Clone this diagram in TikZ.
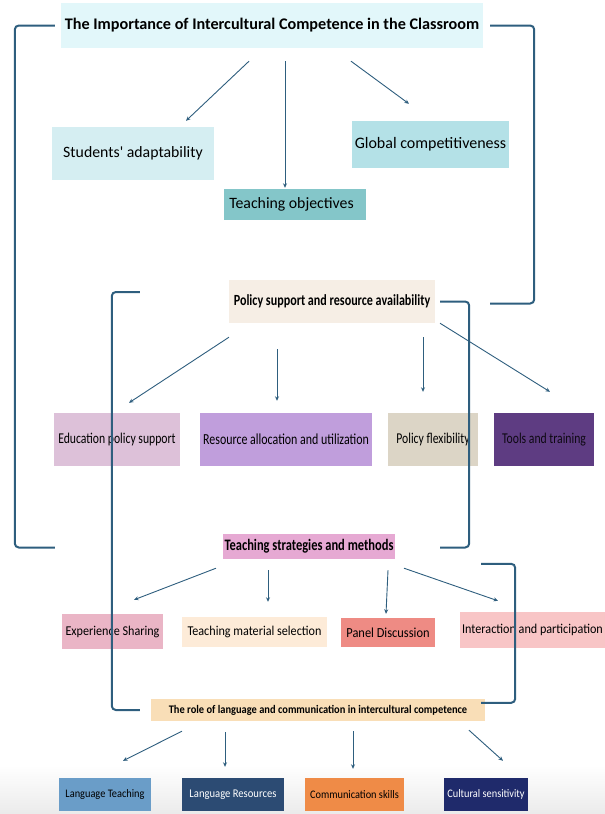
\documentclass[tikz,border=0pt]{standalone}
\usepackage{fontspec}
\setmainfont{Carlito}
\newfontfamily\narrowfont[FakeStretch=0.78]{Carlito}
\newfontfamily\semifont[FakeStretch=0.9]{Carlito}
\usetikzlibrary{positioning,calc,arrows.meta}
\definecolor{linecol}{HTML}{2E5E7E}
\definecolor{titlecol}{HTML}{E2F7FA}
\definecolor{adaptcol}{HTML}{D5EEF2}
\definecolor{globalcol}{HTML}{B4E1E7}
\definecolor{objcol}{HTML}{84C6C9}
\definecolor{policycol}{HTML}{F6EEE5}
\definecolor{educol}{HTML}{DDC1D9}
\definecolor{rescol}{HTML}{C09EDC}
\definecolor{flexcol}{HTML}{DCD5C6}
\definecolor{toolcol}{HTML}{5E3C82}
\definecolor{stratcol}{HTML}{E6A9D3}
\definecolor{expcol}{HTML}{EAB5C6}
\definecolor{matcol}{HTML}{FDEBD8}
\definecolor{panelcol}{HTML}{EE8B84}
\definecolor{intercol}{HTML}{F8C5C6}
\definecolor{rolecol}{HTML}{F9DEB7}
\definecolor{lteachcol}{HTML}{6A9DC8}
\definecolor{lrescol}{HTML}{2C4B73}
\definecolor{commcol}{HTML}{EF8B47}
\definecolor{cultcol}{HTML}{1F2A6B}

\begin{document}
\begin{tikzpicture}[x=1pt,y=-1pt,every node/.style={inner sep=0pt,align=center},arr/.style={draw=linecol,line width=0.9pt,-{Stealth[length=4.5pt,width=4pt]}},brk/.style={draw=linecol,line width=2pt,rounded corners=4pt},big/.style={font=\fontsize{#1}{#1}\selectfont},bigbf/.style={font=\fontsize{#1}{#1}\selectfont\bfseries},narrow/.style={font=\fontsize{#1}{#1}\selectfont\narrowfont},narrowbf/.style={font=\fontsize{#1}{#1}\selectfont\narrowfont\bfseries},semi/.style={font=\fontsize{#1}{#1}\selectfont\semifont},semibf/.style={font=\fontsize{#1}{#1}\selectfont\semifont\bfseries}]
\useasboundingbox (0,0) rectangle (605,814);
\shade[top color=white,bottom color=black!8] (0,765) rectangle (605,814);
\node[fill=titlecol,minimum width=422,minimum height=45,bigbf=16.2](title) at (272,25.5) {The Importance of Intercultural Competence in the Classroom};
\node[fill=adaptcol,minimum width=162,minimum height=53,big=15.8](adapt) at (133,153.5) {Students\textquotesingle\ adaptability};
\node[fill=globalcol,minimum width=157,minimum height=47,big=16](global) at (430.5,144.5) {Global competitiveness};
\node[fill=objcol,minimum width=142,minimum height=31,big=15.8](obj) at (295,204.5) {\hspace*{-7pt}Teaching objectives};
\node[fill=policycol,minimum width=206,minimum height=43,narrowbf=15.5](policy) at (332,301.5) {Policy support and resource availability};
\node[fill=educol,minimum width=126,minimum height=53,narrow=15](edu) at (117,439.5) {Education policy support};
\node[fill=rescol,minimum width=172,minimum height=53,narrow=15.3](res) at (286,439.5) {Resource allocation and utilization};
\node[fill=flexcol,minimum width=90,minimum height=53,narrow=15](flex) at (433,439.5) {Policy flexibility};
\node[fill=toolcol,minimum width=100,minimum height=53,narrow=15,text=black!85!toolcol](tools) at (544,439.5) {Tools and training};
\node[fill=stratcol,minimum width=172,minimum height=25,narrowbf=16](strat) at (309,546.5) {Teaching strategies and methods};
\node[fill=expcol,minimum width=101,minimum height=35,semi=13.5](exp) at (112.5,631.5) {Experience Sharing};
\node[fill=matcol,minimum width=145,minimum height=30,semi=13.5](mat) at (254.5,632) {Teaching material selection};
\node[fill=panelcol,minimum width=94,minimum height=29,semi=13.8](panel) at (388,632.5) {Panel Discussion};
\node[fill=intercol,minimum width=145,minimum height=36,semi=13.5](inter) at (532.5,630) {Interaction and participation};
\node[fill=rolecol,minimum width=334,minimum height=22,semibf=11.6](role) at (318,710) {The role of language and communication in intercultural competence};
\node[fill=lteachcol,minimum width=92,minimum height=33,semi=11.5](lteach) at (105,794.5) {Language Teaching};
\node[fill=lrescol,minimum width=102,minimum height=33,semi=11.8,text=white](lres) at (233,794.5) {Language Resources};
\node[fill=commcol,minimum width=99,minimum height=33,semi=11.5](comm) at (354.5,794.5) {Communication skills};
\node[fill=cultcol,minimum width=84,minimum height=33,semi=11.5,text=white](cult) at (486,794.5) {Cultural sensitivity};
\draw[arr] ($(title.south)+(-23,13)$) -- ($(adapt.north)+(53,-6)$);
\draw[arr] ($(title.south)+(13,13)$) -- ($(obj.north)+(-10,-1)$);
\draw[arr] ($(title.south)+(79,13)$) -- ($(global.north)+(-21.5,-17)$);
\draw[arr] ($(policy.south)+(-103,14)$) -- ($(edu.north)+(12,-10)$);
\draw[arr] ($(policy.south)+(-55,26)$) -- ($(res.north)+(-9,-12)$);
\draw[arr] ($(policy.south)+(91,14)$) -- ($(flex.north)+(-10,-21)$);
\draw[arr] ($(policy.south)+(108,0)$) -- ($(tools.north)+(6,-21)$);
\draw[arr] ($(strat.south)+(-93,9)$) -- ($(exp.north)+(21.5,-14)$);
\draw[arr] ($(strat.south)+(-41,11)$) -- ($(mat.north)+(13.5,-15)$);
\draw[arr] ($(strat.south)+(79,11)$) -- ($(panel.north)+(-2,-4)$);
\draw[arr] ($(strat.south)+(95,9)$) -- ($(inter.north)+(-34.5,-11)$);
\draw[arr] ($(role.south)+(-136,10)$) -- ($(lteach.north)+(18,-17)$);
\draw[arr] ($(role.south)+(-93,11)$) -- ($(lres.north)+(-8,-11)$);
\draw[arr] ($(role.south)+(35,10)$) -- ($(comm.north)+(-1.5,-9)$);
\draw[arr] ($(role.south)+(151,9)$) -- ($(cult.north)+(17,-17)$);
\draw[brk] ([xshift=-6pt]title.west) -- ++(-40,0) -- ++(0,522) -- ++(40,0);
\draw[brk] ([xshift=7pt]title.east) -- ++(44,0) -- ++(0,278) -- ++(-44,0);
\draw[brk] ([xshift=-11pt]role.west) -- ++(-28,0) -- ++(0,-418) -- ++(28,0);
\draw[brk] ([xshift=5pt]policy.east) -- ++(29,0) -- ++(0,246) -- ++(-29,0);
\draw[brk] ($(role.north east)+(-4,-135)$) -- ++(34,0) -- ++(0,139) -- ++(-34,0);
\end{tikzpicture}
\end{document}
